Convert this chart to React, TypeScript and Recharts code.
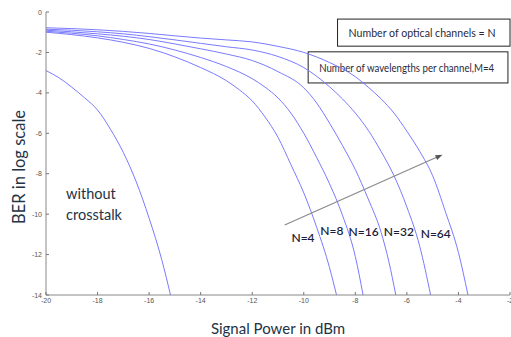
import React from 'react';
import { LineChart, Line, XAxis, YAxis, ReferenceArea, ReferenceLine, ReferenceDot } from 'recharts';

const xTicks = [-20, -18, -16, -14, -12, -10, -8, -6, -4, -2];
const yTicks = [0, -2, -4, -6, -8, -10, -12, -14];

const withoutCrosstalk = [
  { p: -20, ber: -2.9 }, { p: -19.5, ber: -3.25 }, { p: -19, ber: -3.72 }, { p: -18.5, ber: -4.25 },
  { p: -18, ber: -4.85 }, { p: -17.5, ber: -5.8 }, { p: -17, ber: -6.95 }, { p: -16.5, ber: -8.4 },
  { p: -16, ber: -10.2 }, { p: -15.5, ber: -12.3 }, { p: -15.17, ber: -14 },
];
const n4 = [
  { p: -20, ber: -1.0 }, { p: -19, ber: -1.12 }, { p: -18, ber: -1.28 }, { p: -17, ber: -1.5 },
  { p: -16, ber: -1.8 }, { p: -15, ber: -2.22 }, { p: -14, ber: -2.75 }, { p: -13, ber: -3.4 },
  { p: -12.5, ber: -3.85 }, { p: -12, ber: -4.4 }, { p: -11.5, ber: -5.2 }, { p: -11, ber: -6.2 },
  { p: -10.5, ber: -7.55 }, { p: -10, ber: -8.95 }, { p: -9.5, ber: -10.65 }, { p: -9, ber: -12.65 },
  { p: -8.73, ber: -14 },
];
const n8 = [
  { p: -20, ber: -0.95 }, { p: -19, ber: -1.05 }, { p: -18, ber: -1.18 }, { p: -17, ber: -1.36 },
  { p: -16, ber: -1.58 }, { p: -15, ber: -1.88 }, { p: -14, ber: -2.25 }, { p: -13, ber: -2.7 },
  { p: -12, ber: -3.3 }, { p: -11.5, ber: -3.72 }, { p: -11, ber: -4.25 }, { p: -10.5, ber: -5.0 },
  { p: -10, ber: -6.0 }, { p: -9.5, ber: -7.2 }, { p: -9, ber: -8.5 }, { p: -8.5, ber: -10.05 },
  { p: -8, ber: -12.1 }, { p: -7.7, ber: -14 },
];
const n16 = [
  { p: -20, ber: -0.9 }, { p: -19, ber: -0.98 }, { p: -18, ber: -1.08 }, { p: -17, ber: -1.2 },
  { p: -16, ber: -1.36 }, { p: -15, ber: -1.58 }, { p: -14, ber: -1.82 }, { p: -13, ber: -2.08 },
  { p: -12, ber: -2.4 }, { p: -11, ber: -2.95 }, { p: -10, ber: -3.75 }, { p: -9.5, ber: -4.5 },
  { p: -9, ber: -5.5 }, { p: -8.5, ber: -6.6 }, { p: -8, ber: -7.8 }, { p: -7.5, ber: -9.25 },
  { p: -7, ber: -10.9 }, { p: -6.7, ber: -12.35 }, { p: -6.43, ber: -14 },
];
const n32 = [
  { p: -20, ber: -0.85 }, { p: -19, ber: -0.9 }, { p: -18, ber: -0.98 }, { p: -17, ber: -1.08 },
  { p: -16, ber: -1.22 }, { p: -15, ber: -1.38 }, { p: -14, ber: -1.55 }, { p: -13, ber: -1.72 },
  { p: -12, ber: -1.88 }, { p: -11, ber: -2.2 }, { p: -10, ber: -2.75 }, { p: -9, ber: -3.7 },
  { p: -8.5, ber: -4.3 }, { p: -8, ber: -5.0 }, { p: -7.5, ber: -5.85 }, { p: -7, ber: -6.9 },
  { p: -6.5, ber: -8.1 }, { p: -6, ber: -9.65 }, { p: -5.5, ber: -11.6 }, { p: -5.08, ber: -14 },
];
const n64 = [
  { p: -20, ber: -0.78 }, { p: -19, ber: -0.82 }, { p: -18, ber: -0.88 }, { p: -17, ber: -0.96 },
  { p: -16, ber: -1.06 }, { p: -15, ber: -1.18 }, { p: -14, ber: -1.29 }, { p: -13, ber: -1.38 },
  { p: -12, ber: -1.48 }, { p: -11, ber: -1.7 }, { p: -10, ber: -2.0 }, { p: -9, ber: -2.5 },
  { p: -8, ber: -3.2 }, { p: -7.5, ber: -3.72 }, { p: -7, ber: -4.3 }, { p: -6.5, ber: -5.0 },
  { p: -6, ber: -5.9 }, { p: -5.5, ber: -6.9 }, { p: -5, ber: -8.1 }, { p: -4.5, ber: -9.9 },
  { p: -4, ber: -11.9 }, { p: -3.63, ber: -14 },
];

const seriesList = [
  { name: 'without crosstalk', data: withoutCrosstalk },
  { name: 'N=4', data: n4 },
  { name: 'N=8', data: n8 },
  { name: 'N=16', data: n16 },
  { name: 'N=32', data: n32 },
  { name: 'N=64', data: n64 },
];

const curveLabels = [
  { text: 'N=4', p: -10.03, ber: -11.15 },
  { text: 'N=8', p: -8.91, ber: -10.82 },
  { text: 'N=16', p: -7.68, ber: -10.85 },
  { text: 'N=32', p: -6.31, ber: -10.85 },
  { text: 'N=64', p: -4.88, ber: -10.95 },
];
const sideLabel = [
  { text: 'without', p: -19.22, ber: -8.98 },
  { text: 'crosstalk', p: -19.22, ber: -10.02 },
];
const arrowSegment = [{ x: -10.74, y: -10.54 }, { x: -4.62, y: -7.06 }];
const legendBoxes = [
  { text: 'Number of optical channels = N', x1: -8.69, x2: -2, y1: -0.35, y2: -1.69, textLen: 147 },
  { text: 'Number of wavelengths per channel,M=4', x1: -9.83, x2: -2.08, y1: -1.97, y2: -3.51, textLen: 175 },
];

const FONT = 'Lato, "Open Sans", sans-serif';
const TICK_FONT = '"Liberation Sans", Arial, sans-serif';
const CURVE = '#7a7aff';

const BottomTick = (props: any) => {
  const { x, y, payload } = props;
  return (
    <g>
      <line x1={x} y1={y - 2} x2={x} y2={y - 5} stroke="#777" strokeWidth={1} />
      <text x={x} y={y} dy={6} textAnchor="middle" fontSize={7} fill="#555" fontFamily={TICK_FONT}>
        {payload.value}
      </text>
    </g>
  );
};
const TopTick = (props: any) => {
  const { x, y } = props;
  return <line x1={x} y1={y} x2={x} y2={y + 3} stroke="#777" strokeWidth={1} />;
};
const LeftTick = (props: any) => {
  const { x, y, payload } = props;
  return (
    <g>
      <line x1={x + 4} y1={y} x2={x + 7} y2={y} stroke="#777" strokeWidth={1} />
      <text x={x} y={y} dy={2.5} textAnchor="end" fontSize={7} fill="#555" fontFamily={TICK_FONT}>
        {payload.value}
      </text>
    </g>
  );
};

const YTitle = (props: any) => {
  const vb = props.viewBox || { x: 0, y: 12 };
  const cx = 19;
  const cy = vb.y + 155;
  return (
    <text x={cx} y={cy} transform={`rotate(-90 ${cx} ${cy})`} textAnchor="middle" dominantBaseline="central"
      fontSize={16.5} fill="#233245" fontFamily={FONT}>
      BER in log scale
    </text>
  );
};

const arrowShape = (props: any) => {
  const { x1, y1, x2, y2 } = props;
  const ang = Math.atan2(y2 - y1, x2 - x1);
  const L = 7, W = 2.6;
  const bx = x2 - L * Math.cos(ang), by = y2 - L * Math.sin(ang);
  const px = -Math.sin(ang) * W, py = Math.cos(ang) * W;
  return (
    <g>
      <line x1={x1} y1={y1} x2={bx} y2={by} stroke="#8a8a8a" strokeWidth={1.2} />
      <polygon points={`${x2},${y2} ${bx + px},${by + py} ${bx - px},${by - py}`} fill="#555" />
    </g>
  );
};

export default function App() {
  return (
    <div style={{ position: 'absolute', left: 0, top: 0, width: 511, height: 337, background: '#fff' }}>
      <LineChart width={511} height={337} margin={{ top: 12, right: 1, bottom: 0, left: 0 }}>
        <XAxis type="number" dataKey="p" domain={[-20, -2]} ticks={xTicks} allowDataOverflow height={42}
          axisLine={{ stroke: '#888' }} tickLine={false} tickSize={0} tickMargin={2} tick={<BottomTick />}
          interval={0}
          label={{ value: 'Signal Power in dBm', position: 'insideBottom', offset: 3, fontSize: 15, fill: '#233245', fontFamily: FONT }} />
        <XAxis xAxisId="top" orientation="top" type="number" domain={[-20, -2]} ticks={xTicks} height={0}
          axisLine={{ stroke: '#aaa' }} tickLine={false} tickSize={0} tickMargin={0} tick={<TopTick />} interval={0} />
        <YAxis type="number" domain={[-14, 0]} ticks={yTicks} allowDataOverflow width={46}
          axisLine={{ stroke: '#888' }} tickLine={false} tickSize={0} tickMargin={4} tick={<LeftTick />}
          interval={0} label={<YTitle />} />
        {seriesList.map((s) => (
          <Line key={s.name} name={s.name} data={s.data} dataKey="ber" type="monotone" stroke={CURVE}
            strokeWidth={1} dot={false} activeDot={false} isAnimationActive={false} />
        ))}
        {legendBoxes.map((b) => (
          <ReferenceArea key={b.text} x1={b.x1} x2={b.x2} y1={b.y1} y2={b.y2} ifOverflow="visible"
            shape={(p: any) => (
              <g>
                <rect x={p.x} y={p.y} width={p.width} height={p.height} fill="#fff" stroke="#222" strokeWidth={1} />
                <text x={p.x + 11} y={p.y + p.height / 2} dominantBaseline="central" fontSize={11}
                  fill="#2a2a3a" fontFamily={FONT} textLength={b.textLen} lengthAdjust="spacingAndGlyphs">
                  {b.text}
                </text>
              </g>
            )} />
        ))}
        <ReferenceLine segment={arrowSegment} ifOverflow="visible" shape={arrowShape} />
        {curveLabels.map((c) => (
          <ReferenceDot key={c.text} x={c.p} y={c.ber} r={1} ifOverflow="visible"
            shape={(p: any) => (
              <text x={p.cx} y={p.cy} textAnchor="middle" dominantBaseline="central" fontSize={12}
                fontWeight={600} fill="#1c1c3a" fontFamily={FONT}>{c.text}</text>
            )} />
        ))}
        {sideLabel.map((c) => (
          <ReferenceDot key={c.text} x={c.p} y={c.ber} r={1} ifOverflow="visible"
            shape={(p: any) => (
              <text x={p.cx} y={p.cy} textAnchor="start" dominantBaseline="central" fontSize={14.5}
                fill="#233245" fontFamily={FONT}>{c.text}</text>
            )} />
        ))}
      </LineChart>
    </div>
  );
}
